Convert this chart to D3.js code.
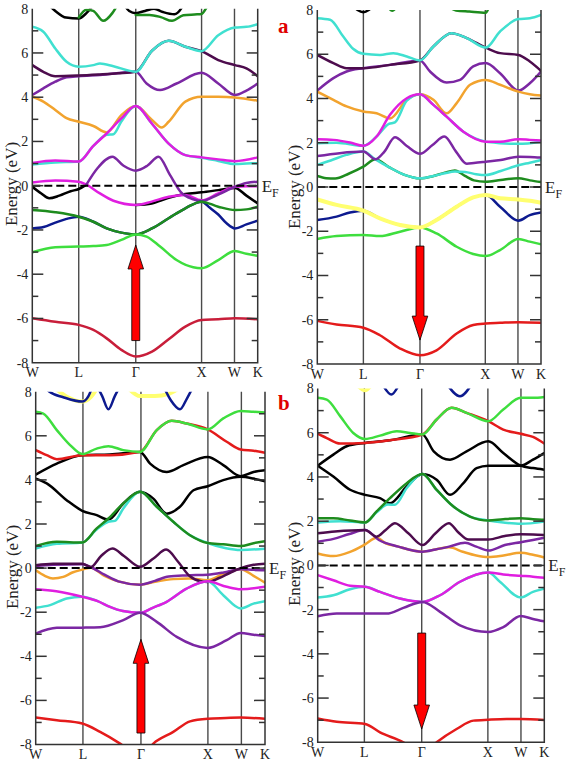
<!DOCTYPE html>
<html><head><meta charset="utf-8">
<script src="https://cdn.jsdelivr.net/npm/d3@7"></script>
<style>body{margin:0;background:#fff}svg{display:block}</style>
</head><body>
<script>
// ---------- shared axes ----------
const kLabels = ["W","L","Γ","X","W","K"];
const kNodes = [0, 20.6, 45.9, 75.1, 89.7, 100];   // path position (% of W-L-Γ-X-W-K length)
const majorTicks = [-8,-6,-4,-2,0,2,4,6,8];
const minorTicks = [-7,-5,-3,-1,1,3,5,7];
const panelTags = ["a","b"];

// ---------- panel a, spin up ----------
const aUpBands = [
 ["black",[[6,8.3],[10.2,7.9],[15,7.6],[20.6,7.56],[24,7.8],[28,8.3]]],
 ["darkgreen",[[20.6,7.6],[24,7.95],[27,7.9],[31.5,7.45],[35.5,7.8],[38.5,8.3]]],
 ["black",[[40,8.3],[43,7.9],[45.9,7.8],[50,7.9],[54,8.0],[58,7.85],[63,7.75],[66,8.0],[67.5,8.3]]],
 ["darkgreen",[[45.9,7.72],[52,7.72],[57,7.62],[62,7.45],[67,7.7],[72,7.74],[75.1,7.76],[77,8.0],[78.5,8.3]]],
 ["purple",[[0,4.1],[4.9,4.4],[10.2,4.7],[15.2,4.9],[20.6,4.95],[30,5.0],[45.9,5.15],[50.7,4.62],[56.7,4.32],[64,4.62],[75.1,5.1],[82.5,4.62],[89.9,4.1],[95,4.3],[100,4.62]]],
 ["darkpurple",[[0,5.45],[4.9,5.15],[10.2,4.95],[20.6,4.98],[30,5.03],[38,5.08],[45.9,5.15],[53.1,6.1],[60.5,6.55],[67.9,6.28],[75.1,6.08],[82.5,5.68],[89.9,5.45],[95,5.3],[100,4.95]]],
 ["cyan",[[0,7.18],[4.9,6.96],[10.2,6.2],[15.2,5.6],[20.6,5.38],[27.1,5.45],[30,5.52],[36,5.4],[45.9,5.15],[53.1,6.1],[60.5,6.55],[67.9,6.28],[75.1,6.08],[82.5,6.8],[89.9,7.15],[95,7.18],[100,7.3]]],
 ["orange",[[0,4.02],[4.9,3.8],[10.2,3.42],[15.2,3.05],[20.6,2.89],[27.1,2.7],[33,2.41],[39.5,3.19],[45.9,3.6],[53.1,2.97],[57.4,2.63],[60.5,2.89],[67.9,3.8],[75.1,4.02],[82.5,4.02],[89.9,3.99],[100,3.84]]],
 ["cyan",[[0,0.96],[10.2,1.05],[20.6,1.09],[27.1,1.8],[33,2.3],[36,2.33],[39.5,2.9],[45.9,3.6],[53.1,2.8],[60.5,1.9],[67.9,1.38],[75.1,1.26],[82.5,1.12],[89.9,0.98],[95,1.0],[100,1.02]]],
 ["magenta",[[0,1.03],[10.2,1.14],[20.6,1.09],[27.1,1.8],[33,2.36],[39.5,3.04],[45.9,3.6],[53.1,2.8],[60.5,1.9],[67.9,1.38],[75.1,1.28],[82.5,1.19],[89.9,1.11],[100,1.28]]],
 ["black",[[0,-0.05],[4,-0.35],[7.5,-0.57],[12,-0.45],[17,-0.25],[20.6,-0.15],[24,0.05]]],
 ["black",[[45.9,-0.87],[53,-0.8],[60.5,-0.55],[67.9,-0.38],[75.1,-0.3],[82.5,-0.2],[89.9,-0.1],[95,-0.45],[100,-0.8]]],
 ["magenta",[[0,0.14],[10.2,0.23],[20.6,0.18],[24,0.05],[30,-0.35],[36,-0.68],[45.9,-0.87],[53,-0.72],[60.5,-0.5],[67.9,-0.42],[75.1,-0.66],[82.5,-0.35],[89.9,-0.05],[95,-0.02],[100,-0.02]]],
 ["purple",[[24,0.05],[29,0.8],[35.5,1.31],[40.5,0.9],[45.9,0.68],[51,0.9],[56,1.31],[61,0.5],[66,-0.3],[71,-0.6],[75.1,-0.69],[82.5,-0.4],[89.9,-0.05],[95,0.12],[100,0.18]]],
 ["blue",[[0,-1.93],[5,-1.87],[10.2,-1.67],[15.2,-1.5],[20.6,-1.4],[27.1,-1.63],[33,-1.93],[39.5,-2.12],[45.9,-2.2],[53.1,-1.93],[60.5,-1.47],[67.9,-1.02],[75.1,-0.72],[78.8,-1.0],[82.5,-1.3],[86.2,-1.7],[89.9,-1.93],[95,-1.75],[100,-1.58]]],
 ["darkgreen",[[0,-1.1],[10.2,-1.2],[20.6,-1.4],[27.1,-1.63],[33,-1.93],[39.5,-2.12],[45.9,-2.2],[53.1,-1.93],[60.5,-1.47],[67.9,-1.02],[75.1,-0.72],[82.5,-0.95],[89.9,-1.1],[95,-1.07],[100,-0.95]]],
 ["lightgreen",[[0,-3.01],[10.2,-2.78],[20.6,-2.75],[27.1,-2.73],[33,-2.68],[39.5,-2.45],[45.9,-2.2],[50.7,-2.3],[56.7,-2.75],[64,-3.36],[71.4,-3.69],[75.1,-3.73],[82.5,-3.36],[89.9,-2.95],[95,-3.08],[100,-3.17]]],
 ["crimson",[[0,-5.99],[10.2,-6.15],[20.6,-6.29],[27.1,-6.52],[33,-6.9],[39.5,-7.42],[45.9,-7.72],[53.1,-7.5],[60.5,-6.94],[67.9,-6.37],[75.1,-6.07],[82.5,-6.04],[89.9,-5.99],[100,-6.04]]]
];

// ---------- panel a, spin down ----------
const aDownBands = [
 ["black",[[15,8.3],[18,8.0],[20.6,7.9],[23,8.0],[26,8.3]]],
 ["darkgreen",[[31,8.2],[33.5,7.97],[36,8.2]]],
 ["darkgreen",[[58,8.2],[62,7.98],[68,7.93],[75.3,7.88],[77,8.2]]],
 ["purple",[[0,4.36],[7.2,4.92],[13.1,5.22],[20.6,5.37],[32.5,5.52],[45.9,5.72],[50.4,5.22],[57.8,4.72],[63.8,4.84],[69.7,5.45],[75.3,5.6],[81.7,5.14],[89.9,4.36],[95,4.69],[100,5.22]]],
 ["darkpurple",[[0,5.97],[7.2,5.6],[13.1,5.37],[20.6,5.37],[32.5,5.52],[45.9,5.72],[51.9,6.35],[60,6.95],[66.8,6.73],[75.3,6.3],[81.7,6.05],[89.9,5.97],[95,5.67],[100,5.25]]],
 ["cyan",[[0,7.63],[5.7,7.56],[11.6,6.8],[16,6.25],[20.6,6.02],[28,5.97],[34,6.05],[40,5.9],[45.9,5.72],[51.9,6.35],[60,6.95],[66.8,6.73],[75.3,6.3],[81.7,7.03],[89.9,7.59],[95,7.63],[100,7.78]]],
 ["orange",[[0,4.31],[7.2,3.94],[13.1,3.64],[20.6,3.41],[26.5,3.33],[32.5,3.1],[40,3.94],[45.9,4.19],[51.9,3.94],[57.8,3.33],[62.3,3.79],[68.3,4.62],[75.3,4.84],[81.7,4.62],[89.9,4.31],[95,4.19],[100,4.13]]],
 ["cyan",[[0,1.98],[8.6,2.0],[20.6,1.86],[26.5,2.28],[32,2.85],[34.7,2.92],[40,3.9],[45.9,4.19],[51.9,3.71],[57.8,3.18],[65.3,2.5],[75.3,2.05],[81.7,1.98],[89.9,1.95],[100,2.05]]],
 ["magenta",[[0,2.16],[7.2,2.13],[14.6,2.01],[20.6,1.86],[26.5,2.28],[32.5,3.26],[40,4.01],[45.9,4.19],[51.9,3.71],[57.8,3.18],[65.3,2.5],[75.3,2.05],[81.7,2.05],[89.9,2.16],[95,2.13],[100,2.1]]],
 ["darkgreen",[[0,0.5],[4,0.4],[8,0.38],[14,0.6],[20.6,0.92],[26,1.25],[32,0.9],[39,0.55],[45.9,0.39],[52,0.5],[57,0.65],[61.5,0.75],[66,0.5],[70,0.3],[75.3,0.24],[82,0.32],[89.9,0.4],[95,0.3],[100,0.22]]],
 ["cyan",[[0,1.0],[6,1.2],[13,1.45],[20.6,1.6],[26,1.25],[32,0.9],[39,0.55],[45.9,0.39],[52,0.5],[57,0.62],[61.5,0.7],[66,0.68],[71,0.58],[75.3,0.54],[82,0.72],[89.9,0.98],[95,1.1],[100,1.22]]],
 ["purple",[[0,1.4],[10,1.53],[20.6,1.6],[26,1.25],[30,1.6],[34.7,2.25],[40,1.85],[45.9,1.5],[51.5,1.9],[56.8,2.28],[62,1.6],[66.8,1.05],[70,1.08],[75.3,1.14],[82,1.22],[89.9,1.37],[95,1.36],[100,1.33]]],
 ["blue",[[0,-1.49],[8.6,-1.34],[14.6,-1.15],[20.6,-1.07],[28,-1.42],[37,-1.72],[45.9,-1.83],[53.3,-1.49],[62.3,-0.89],[69.7,-0.47],[75.3,-0.36],[81.7,-0.89],[89.9,-1.52],[95,-1.27],[100,-1.15]]],
 ["lightgreen",[[0,-2.35],[8.6,-2.22],[20.6,-2.17],[28,-2.22],[37,-2.02],[45.9,-1.83],[53.3,-2.1],[62.3,-2.7],[69.7,-3.03],[75.3,-3.12],[81.7,-2.85],[89.9,-2.35],[95,-2.47],[100,-2.59]]],
 ["yellow",[[0,-0.56],[8.6,-0.81],[20.6,-1.07],[28,-1.42],[37,-1.72],[45.9,-1.83],[53.3,-1.49],[62.3,-0.89],[69.7,-0.47],[75.3,-0.36],[81.7,-0.51],[89.9,-0.56],[95,-0.62],[100,-0.71]]],
 ["red",[[0,-6.05],[8.6,-6.21],[20.6,-6.36],[28,-6.7],[37,-7.3],[45.9,-7.6],[53.3,-7.38],[62.3,-6.62],[69.7,-6.24],[75.3,-6.17],[81.7,-6.14],[89.9,-6.11],[100,-6.14]]]
];

// ---------- panel b, spin up ----------
const bUpBands = [
 ["yellow",[[8,8.2],[14,7.75],[20.3,7.55],[24,7.75],[27,8.2]]],
 ["yellow",[[40,8.2],[45.5,7.8],[52,7.8],[58,7.9],[63,8.2]]],
 ["blue",[[3,8.3],[6,8.0],[12,7.75],[20.3,7.55],[23,7.8],[25,8.3]]],
 ["blue",[[26.5,8.3],[29,7.8],[31.7,7.2],[34.5,7.8],[37,8.3]]],
 ["blue",[[55.5,8.3],[59,7.6],[62.9,7.2],[66,7.7],[69,8.3]]],
 ["black",[[0,4.24],[9.2,4.74],[20.3,5.12],[32.4,5.15],[45.5,5.27],[49.9,4.74],[57.1,4.36],[64.4,4.67],[75,5.04],[81.8,4.67],[89.4,4.17],[95,4.36],[100,4.44]]],
 ["black",[[0,4.06],[4.8,3.84],[13.5,3.08],[20.3,2.6],[26.6,2.4],[31.7,2.2],[38.2,2.93],[45.5,3.46],[51.3,3.15],[57.1,2.47],[62.9,2.78],[68.8,3.53],[75,3.71],[81.8,3.99],[89.4,4.14],[95,4.06],[100,3.94]]],
 ["red",[[0,5.35],[4.8,5.12],[9.2,4.94],[20.3,5.12],[32.4,5.12],[45.5,5.27],[52.8,6.26],[59.3,6.68],[65.8,6.56],[75,6.29],[83.3,5.73],[89.4,5.38],[95,5.32],[100,5.23]]],
 ["lightgreen",[[0,7.09],[3.3,7.01],[9.2,6.26],[15,5.58],[20.3,5.17],[26.6,5.42],[31.7,5.53],[38.2,5.35],[45.5,5.27],[52.8,6.26],[59.3,6.68],[65.8,6.56],[75,6.29],[81.8,6.79],[89.4,7.13],[95,7.09],[100,7.06]]],
 ["cyan",[[0,0.89],[9.2,1.1],[20.3,1.16],[26.6,1.75],[31.7,2.1],[34.5,2.14],[38.2,2.7],[45.5,3.46],[52.8,2.78],[60,2.1],[67.3,1.49],[75,1.14],[83,0.9],[89.4,0.82],[100,0.88]]],
 ["darkgreen",[[0,1.0],[9.2,1.19],[20.3,1.16],[26.6,1.8],[31.7,2.25],[38.2,2.93],[45.5,3.46],[52.8,2.78],[60,2.1],[67.3,1.49],[75,1.14],[81.8,1.08],[89.4,1.0],[95,1.13],[100,1.22]]],
 ["orange",[[0,-0.1],[4,-0.35],[7.5,-0.47],[12,-0.4],[16,-0.2],[20.3,-0.07],[24,0.02],[30,-0.35],[36,-0.6],[45.5,-0.75],[52,-0.62],[60,-0.5],[67,-0.47],[75,-0.55],[82,-0.25],[89.4,-0.05],[95,-0.35],[100,-0.66]]],
 ["purple",[[0,0.1],[7.6,0.15],[20.3,0.17],[24,0.05],[30,-0.3],[36,-0.6],[45.5,-0.75],[52,-0.58],[58,-0.38],[66,-0.33],[75,-0.3],[82,-0.2],[89.4,-0.05],[95,-0.08],[100,-0.1]]],
 ["darkpurple",[[0,0.13],[7.6,0.2],[20.3,0.2],[24,0.05],[28.5,0.55],[33.5,0.89],[38.5,0.55],[45.5,0.06],[51.5,0.45],[56.9,0.84],[62,0.3],[67,-0.35],[72,-0.6],[75,-0.63],[80,-0.45],[85,-0.2],[89.4,0.0],[95,0.15],[100,0.2]]],
 ["cyan",[[0,-1.8],[6.3,-1.68],[13.5,-1.38],[20.3,-1.3],[27,-1.5],[32.4,-1.76],[38,-1.95],[45.5,-2.03],[51,-1.8],[57.1,-1.53],[65.8,-0.93],[75,-0.6],[81.8,-1.23],[89.4,-1.83],[95,-1.61],[100,-1.5]]],
 ["magenta",[[0,-0.96],[9,-1.05],[20.3,-1.3],[27,-1.5],[32.4,-1.76],[38,-1.95],[45.5,-2.03],[51,-1.8],[57.1,-1.53],[65.8,-0.93],[75,-0.6],[83.3,-0.85],[89.4,-0.96],[100,-0.85]]],
 ["purple",[[0,-2.97],[9.2,-2.71],[20.3,-2.7],[28.1,-2.68],[38.2,-2.36],[45.5,-2.03],[52.8,-2.44],[61.5,-3.12],[75,-3.62],[83.3,-3.27],[89.4,-2.94],[95,-3.02],[100,-3.08]]],
 ["red",[[0,-6.78],[9.2,-6.9],[20.3,-7.05],[28.1,-7.43],[36.8,-7.96],[45.5,-8.6],[51.3,-7.96],[60,-7.43],[67.3,-6.95],[75,-6.83],[83,-6.8],[89.4,-6.78],[100,-6.83]]]
];

// ---------- panel b, spin down ----------
const bDownBands = [
 ["yellow",[[17,8.2],[20.9,7.92],[24,8.2]]],
 ["blue",[[28.5,8.2],[32.5,7.73],[36,8.2]]],
 ["blue",[[57,8.2],[62.8,7.65],[68,8.2]]],
 ["black",[[0,4.51],[6.9,5.01],[12.8,5.39],[20.9,5.54],[31.9,5.66],[46.2,5.92],[51.2,5.16],[58.4,4.78],[65.7,5.16],[75.3,5.61],[81.9,5.08],[89.6,4.51],[95,4.4],[100,4.33]]],
 ["black",[[0,4.51],[6.9,4.02],[14.3,3.42],[20.9,3.19],[27.5,3.04],[31.9,2.81],[39.3,3.57],[46.2,4.13],[52.5,3.87],[58.4,3.19],[64.3,3.72],[70.1,4.4],[75.3,4.51],[81.9,4.51],[89.6,4.51],[95,4.78],[100,5.08]]],
 ["red",[[0,5.96],[4,5.76],[9.9,5.51],[20.9,5.54],[31.9,5.66],[46.2,5.92],[52.5,6.6],[59.1,7.13],[65.7,6.9],[75.3,6.52],[81.9,6.14],[89.6,5.95],[95,5.81],[100,5.51]]],
 ["lightgreen",[[0,7.58],[4,7.5],[9.9,6.75],[15.7,5.99],[20.9,5.72],[27.5,5.87],[34.9,6.07],[40.7,5.99],[46.2,5.92],[52.5,6.6],[59.1,7.13],[65.7,6.9],[75.3,6.52],[81.9,7.05],[89.6,7.58],[95,7.58],[100,7.62]]],
 ["cyan",[[0,1.94],[9.9,2.0],[20.9,1.94],[26,2.4],[31,2.75],[34.1,2.74],[39.3,3.5],[46.2,4.13],[52.5,3.42],[59.9,2.66],[67.2,2.21],[75.3,2.03],[81.9,1.94],[89.6,1.88],[100,1.98]]],
 ["darkgreen",[[0,2.13],[6.9,2.13],[14.3,2.03],[20.9,1.94],[26,2.44],[31.9,3.04],[39.3,3.72],[46.2,4.13],[52.5,3.42],[59.9,2.66],[67.2,2.21],[75.3,2.03],[81.9,2.09],[89.6,2.13],[95,2.09],[100,2.06]]],
 ["orange",[[0,0.54],[6.9,0.42],[14,0.6],[20.9,0.95],[26,1.25],[30,1.0],[35.6,0.85],[40,0.72],[46.2,0.62],[52,0.72],[58,0.82],[64,0.62],[70,0.45],[75.3,0.38],[82,0.45],[89.6,0.57],[95,0.48],[100,0.36]]],
 ["purple",[[0,1.07],[7,1.2],[14,1.42],[20.9,1.6],[27,1.15],[35.6,0.85],[46.2,0.62],[52,0.72],[58,0.85],[65,1.02],[70,0.85],[75.3,0.67],[82.6,0.92],[89.6,1.05],[95,1.15],[100,1.25]]],
 ["darkpurple",[[0,1.45],[7.6,1.53],[20.9,1.6],[26,1.3],[30,1.6],[34.1,1.91],[40,1.45],[46.2,0.92],[52,1.45],[57.9,1.91],[62,1.5],[66.5,1.17],[75.3,1.17],[82.6,1.33],[89.6,1.41],[95,1.4],[100,1.38]]],
 ["cyan",[[0,-1.45],[6.9,-1.35],[14.3,-1.08],[20.9,-0.97],[27.5,-1.2],[36.3,-1.5],[46.2,-1.65],[54,-1.35],[62.8,-0.74],[75.3,-0.32],[80.4,-0.74],[89.6,-1.45],[95,-1.2],[100,-1.05]]],
 ["magenta",[[0,-0.44],[6.9,-0.67],[14.3,-0.92],[20.9,-0.97],[27.5,-1.2],[36.3,-1.5],[46.2,-1.65],[54,-1.35],[62.8,-0.74],[75.3,-0.32],[81.9,-0.41],[89.6,-0.47],[95,-0.51],[100,-0.56]]],
 ["purple",[[0,-2.3],[8.4,-2.18],[20.9,-2.18],[30.4,-2.18],[37.8,-1.92],[46.2,-1.65],[54,-2.1],[62.8,-2.71],[75.3,-3.01],[81.9,-2.79],[89.6,-2.29],[95,-2.42],[100,-2.53]]],
 ["red",[[0,-6.92],[8.4,-7.07],[20.9,-7.17],[27.5,-7.55],[37.8,-8.0],[46.2,-8.55],[52.5,-8.0],[61.3,-7.4],[68.7,-7.02],[75.3,-6.98],[83.4,-6.95],[89.6,-6.95],[100,-6.99]]]
];

// spin arrows: [tail energy, tip energy]
const aUpArrow = [-7.0, -2.68];
const aDownArrow = [-2.67, -6.92];
const bUpArrow = [-7.48, -3.23];
const bDownArrow = [-3.06, -7.4];

// ---------- styles ----------
const palette = {
  black:"#000000", darkgreen:"#1e8c1e", lightgreen:"#3ede3e", cyan:"#40e0d0",
  magenta:"#e01ee0", purple:"#7b27a3", darkpurple:"#4d0c4d", orange:"#f2a32e",
  blue:"#0d1a8f", red:"#e41b1b", crimson:"#c81e3a", yellow:"#ffff70"
};
const FONT = "'Liberation Serif','Times New Roman',serif";

const svg = d3.select("body").append("svg").attr("width",567).attr("height",762);

const panels = [
 {id:"p1", bands:aUpBands, arrow:aUpArrow, x0:32.3, x1:257.7, y0:8.7, y1:362.7, lx:17, ly:184},
 {id:"p2", bands:aDownBands, arrow:aDownArrow, x0:317.3, x1:541, y0:10, y1:364, lx:300, ly:187},
 {id:"p3", bands:bUpBands, arrow:bUpArrow, x0:35.7, x1:265, y0:391.7, y1:744.5, lx:18, ly:567},
 {id:"p4", bands:bDownBands, arrow:bDownArrow, x0:317.7, x1:544.3, y0:388.5, y1:742.3, lx:300, ly:564}
];

panels.forEach(p => {
  const xs = d3.scaleLinear().domain([0,100]).range([p.x0,p.x1]);
  const ys = d3.scaleLinear().domain([-8,8]).range([p.y1,p.y0]);
  const g = svg.append("g");

  g.append("clipPath").attr("id","clip-"+p.id).append("rect")
    .attr("x",p.x0).attr("y",p.y0).attr("width",p.x1-p.x0).attr("height",p.y1-p.y0);

  // high-symmetry vertical lines
  g.selectAll("line.k").data(kNodes.slice(1,-1)).enter().append("line")
    .attr("x1",d=>xs(d)).attr("x2",d=>xs(d)).attr("y1",p.y0).attr("y2",p.y1)
    .attr("stroke","#4a4a4a").attr("stroke-width",1.4);

  // bands
  const line = d3.line().x(d=>xs(d[0])).y(d=>ys(d[1])).curve(d3.curveMonotoneX);
  const bg = g.append("g").attr("clip-path","url(#clip-"+p.id+")");
  bg.selectAll("path").data(p.bands).enter().append("path")
    .attr("d",d=>line(d[1])).attr("fill","none")
    .attr("stroke",d=>palette[d[0]])
    .attr("stroke-width",d=>d[0]==="yellow"?4:2.5)
    .attr("stroke-linejoin","round").attr("stroke-linecap","round");

  // Fermi level
  g.append("line").attr("x1",p.x0).attr("x2",p.x1).attr("y1",ys(0)).attr("y2",ys(0))
    .attr("stroke","#000").attr("stroke-width",2).attr("stroke-dasharray","8,4");

  // frame (left, right, bottom)
  g.append("path").attr("d",`M${p.x0},${p.y0}V${p.y1}H${p.x1}V${p.y0}`)
    .attr("fill","none").attr("stroke","#333").attr("stroke-width",1.5);

  // ticks
  const tk = (vals,len) => {
    vals.forEach(v => {
      g.append("line").attr("x1",p.x0).attr("x2",p.x0+len).attr("y1",ys(v)).attr("y2",ys(v))
        .attr("stroke","#333").attr("stroke-width",1.5);
      g.append("line").attr("x1",p.x1).attr("x2",p.x1-len).attr("y1",ys(v)).attr("y2",ys(v))
        .attr("stroke","#333").attr("stroke-width",1.5);
    });
  };
  tk(majorTicks.filter(v=>v>-8 && v<8),11);
  tk(minorTicks,6);

  // tick labels
  g.selectAll("text.yt").data(majorTicks).enter().append("text")
    .attr("x",p.x0-4).attr("y",d=>ys(d)).attr("dy","0.35em")
    .attr("text-anchor","end").attr("font-family",FONT).attr("font-size",14)
    .attr("fill","#222").text(d=>d);

  // k labels
  g.selectAll("text.xt").data(kNodes).enter().append("text")
    .attr("x",d=>xs(d)).attr("y",p.y1+14.5)
    .attr("text-anchor","middle").attr("font-family",FONT).attr("font-size",14)
    .attr("fill","#222").text((d,i)=>kLabels[i]);

  // axis title
  g.append("text").attr("transform",`translate(${p.lx},${p.ly}) rotate(-90)`)
    .attr("text-anchor","middle").attr("font-family",FONT).attr("font-size",17)
    .attr("fill","#222").text("Energy (eV)");

  // E_F label
  const ef = g.append("text").attr("x",p.x1+4).attr("y",ys(0)+6)
    .attr("font-family",FONT).attr("font-size",17).attr("fill","#222");
  ef.append("tspan").text("E");
  ef.append("tspan").attr("font-size",12).attr("dy",5).text("F");

  // spin arrow
  const ax = xs(kNodes[2]);
  const yT = ys(p.arrow[0]), yP = ys(p.arrow[1]);
  const dir = Math.sign(yP - yT);
  const hl = 24, hw = 7.8, sw = 4;
  const yb = yP - dir*hl;
  g.append("path")
    .attr("d",`M${ax-sw},${yT}L${ax-sw},${yb}L${ax-hw},${yb}L${ax},${yP}L${ax+hw},${yb}L${ax+sw},${yb}L${ax+sw},${yT}Z`)
    .attr("fill","#ff0000").attr("stroke","#000").attr("stroke-width",0.8);
});

// panel tags
svg.append("text").attr("x",278).attr("y",33).attr("font-family",FONT)
  .attr("font-weight","bold").attr("font-size",21).attr("fill","#e00000").text(panelTags[0]);
svg.append("text").attr("x",278).attr("y",410).attr("font-family",FONT)
  .attr("font-weight","bold").attr("font-size",21).attr("fill","#e00000").text(panelTags[1]);
</script>
</body></html>
